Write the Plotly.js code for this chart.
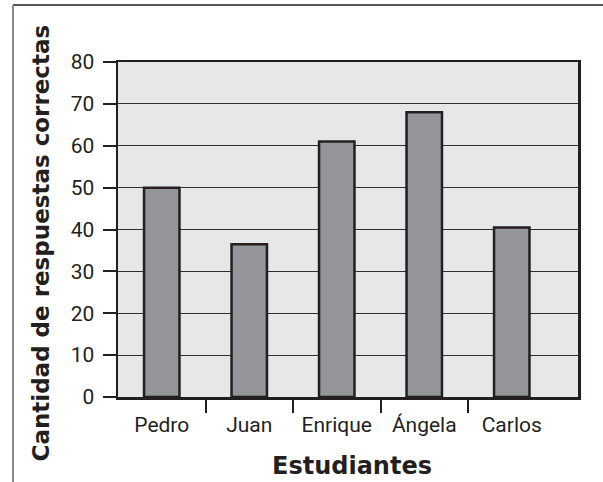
<!DOCTYPE html>
<html>
<head>
<meta charset="utf-8">
<script src="https://cdn.plot.ly/plotly-3.0.1.min.js"></script>
<style>html,body{margin:0;padding:0;background:#fff;}#chart{width:603px;height:482px;}</style>
</head>
<body>
<div id="chart"></div>
<script>
const students = ["Pedro", "Juan", "Enrique", "Ángela", "Carlos"];
const correctAnswers = [50, 36.5, 61, 68, 40.5];
const yTicks = [0, 10, 20, 30, 40, 50, 60, 70, 80];
const xTitle = "Estudiantes";
const yTitle = "Cantidad de respuestas correctas";

const idx = students.map((_, i) => i);
const dark = "#231f20";
const font = "Roboto, 'Liberation Sans', sans-serif";
const titleFont = "'DejaVu Sans', 'Open Sans', sans-serif";

const trace = {
  type: "bar",
  x: idx,
  y: correctAnswers,
  width: 0.405,
  marker: { color: "#939598", line: { color: dark, width: 2.5 } },
  hoverinfo: "skip"
};

const layout = {
  width: 603, height: 482,
  margin: { l: 118, r: 25, t: 62, b: 85 },
  paper_bgcolor: "#ffffff",
  plot_bgcolor: "#e6e7e8",
  showlegend: false,
  font: { family: font, color: dark },
  xaxis: {
    range: [-0.5, 4.757],
    tickmode: "array",
    tickvals: idx,
    ticktext: students,
    ticks: "",
    ticklabelstandoff: 7,
    tickfont: { size: 21, family: font, color: dark },
    showgrid: false, zeroline: false,
    showline: true, mirror: true, linecolor: dark, linewidth: 2.5,
    minor: { tickmode: "array", tickvals: [0.5, 1.5, 2.5, 3.5], ticks: "outside", ticklen: 13, tickwidth: 2, tickcolor: dark, showgrid: false },
    fixedrange: true
  },
  yaxis: {
    range: [0, 80],
    tickmode: "array",
    tickvals: yTicks,
    ticks: "outside", ticklen: 13, tickwidth: 2, tickcolor: dark,
    ticklabelstandoff: 4,
    tickfont: { size: 21, family: font, color: dark },
    showgrid: true, gridcolor: "#2e2e2e", gridwidth: 1.2,
    zeroline: false,
    showline: true, mirror: true, linecolor: dark, linewidth: 2.5,
    fixedrange: true
  },
  annotations: [
    { text: "<b>" + xTitle + "</b>", xref: "paper", yref: "paper", x: 0.508, y: (397 - 466) / 335,
      xanchor: "center", yanchor: "middle", showarrow: false, font: { size: 24, family: titleFont, color: dark } },
    { text: "<b>" + yTitle + "</b>", xref: "paper", yref: "paper", x: (40 - 118) / 460, y: (397 - 243.5) / 335,
      xanchor: "center", yanchor: "middle", textangle: -90, showarrow: false, font: { size: 23, family: titleFont, color: dark } }
  ],
  shapes: [
    { type: "line", xref: "paper", yref: "paper", x0: (13 - 118) / 460, x1: (610 - 118) / 460, y0: (397 - 5) / 335, y1: (397 - 5) / 335,
      line: { color: dark, width: 1.5 } },
    { type: "line", xref: "paper", yref: "paper", x0: (13 - 118) / 460, x1: (13 - 118) / 460, y0: (397 - 5) / 335, y1: (397 - 490) / 335,
      line: { color: "#8a8a8a", width: 2 } }
  ]
};

Plotly.newPlot("chart", [trace], layout, { displayModeBar: false, staticPlot: true });
</script>
</body>
</html>
